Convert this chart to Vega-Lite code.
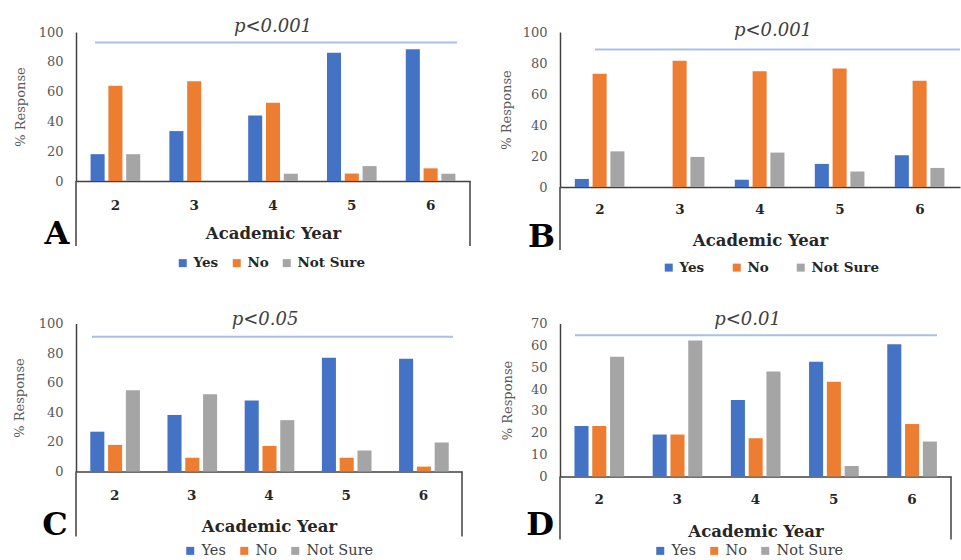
{
  "$schema": "https://vega.github.io/schema/vega-lite/v6.json",
  "background": "white",
  "padding": {"left": 13, "top": 18, "right": 0, "bottom": 0},
  "columns": 2,
  "spacing": {"row": 136.5, "column": 90},
  "bounds": "flush",
  "align": "each",
  "resolve": {"scale": {"color": "independent"}, "legend": {"color": "independent"}},
  "config": {
    "view": {"stroke": null},
    "axis": {"grid": false, "ticks": false, "tickSize": 0, "domainColor": "#404040", "domainWidth": 1.5, "labelOverlap": false},
    "axisY": {"labelFont": "DejaVu Serif", "labelFontSize": 13, "labelColor": "#595959", "titleFont": "DejaVu Serif", "titleFontSize": 13, "titleFontWeight": "normal", "titleColor": "#595959"},
    "axisX": {"labelFont": "DejaVu Serif", "labelFontSize": 13.5, "labelFontWeight": "bold", "labelColor": "#262626", "labelAngle": 0, "titleFont": "DejaVu Serif", "titleFontSize": 16.5, "titleFontWeight": "bold", "titleColor": "#262626"},
    "title": {"font": "DejaVu Serif", "fontSize": 18, "fontStyle": "italic", "fontWeight": "normal", "color": "#404040", "frame": "group", "anchor": "middle", "baseline": "alphabetic", "offset": 0},
    "legend": {"title": null, "orient": "none", "direction": "horizontal", "symbolType": "square", "symbolSize": 64, "symbolStrokeWidth": 0, "labelFont": "DejaVu Serif", "labelOffset": 4, "padding": 0}
  },
  "concat": [
    {
      "width": 394, "height": 149,
      "title": {"text": "p<0.001", "dy": 14},
      "layer": [
        {
          "data": {"values": [
            {"year": "2", "resp": "Yes", "pct": 18}, {"year": "2", "resp": "No", "pct": 64}, {"year": "2", "resp": "Not Sure", "pct": 18},
            {"year": "3", "resp": "Yes", "pct": 33.5}, {"year": "3", "resp": "No", "pct": 67}, {"year": "3", "resp": "Not Sure", "pct": 0},
            {"year": "4", "resp": "Yes", "pct": 44}, {"year": "4", "resp": "No", "pct": 52.5}, {"year": "4", "resp": "Not Sure", "pct": 4.9},
            {"year": "5", "resp": "Yes", "pct": 86}, {"year": "5", "resp": "No", "pct": 5}, {"year": "5", "resp": "Not Sure", "pct": 10},
            {"year": "6", "resp": "Yes", "pct": 88.5}, {"year": "6", "resp": "No", "pct": 8.5}, {"year": "6", "resp": "Not Sure", "pct": 4.9}
          ]},
          "mark": {"type": "bar"},
          "encoding": {
            "x": {"field": "year", "type": "nominal", "scale": {"paddingInner": 0.37, "paddingOuter": 0.185}, "axis": {"title": "Academic Year", "labelPadding": 17, "titlePadding": 13.5}},
            "xOffset": {"field": "resp", "type": "nominal", "sort": ["Yes", "No", "Not Sure"], "scale": {"paddingInner": 0.21}},
            "y": {"field": "pct", "type": "quantitative", "scale": {"domain": [0, 100], "nice": false}, "axis": {"title": "% Response", "values": [0, 20, 40, 60, 80, 100], "labelOverlap": false, "labelPadding": 13, "titlePadding": 11}},
            "color": {"field": "resp", "type": "nominal", "sort": ["Yes", "No", "Not Sure"], "scale": {"domain": ["Yes", "No", "Not Sure"], "range": ["#4472C4", "#ED7D31", "#A5A5A5"]},
              "legend": {"legendX": 100, "legendY": 224, "labelFontSize": 13.5, "labelFontWeight": "bold", "labelColor": "#262626", "columnPadding": 11}}
          }
        },
        {"data": {"values": [{}]}, "mark": {"type": "rule", "color": "#A9BFE6", "strokeWidth": 2}, "encoding": {"x": {"value": 19}, "x2": {"value": 381}, "y": {"datum": 93, "type": "quantitative", "axis": {"title": "% Response", "values": [0, 20, 40, 60, 80, 100], "labelOverlap": false, "labelPadding": 13, "titlePadding": 11}}}},
        {"data": {"values": [{}]}, "mark": {"type": "rule", "color": "#404040", "strokeWidth": 1.5}, "encoding": {"x": {"value": 0}, "y": {"value": 149}, "y2": {"value": 214}}},
        {"data": {"values": [{}]}, "mark": {"type": "rule", "color": "#404040", "strokeWidth": 1.5}, "encoding": {"x": {"value": 394}, "y": {"value": 149}, "y2": {"value": 214}}},
        {"data": {"values": [{"t": "A"}]}, "mark": {"type": "text", "font": "DejaVu Serif", "fontSize": 32, "fontWeight": "bold", "color": "#000000", "align": "center", "baseline": "alphabetic"}, "encoding": {"text": {"field": "t"}, "x": {"value": -19}, "y": {"value": 212}}}
      ]
    },
    {
      "width": 400, "height": 155,
      "title": {"text": "p<0.001", "dx": 13, "dy": 18},
      "layer": [
        {
          "data": {"values": [
            {"year": "2", "resp": "Yes", "pct": 5.2}, {"year": "2", "resp": "No", "pct": 73}, {"year": "2", "resp": "Not Sure", "pct": 23},
            {"year": "3", "resp": "Yes", "pct": 0}, {"year": "3", "resp": "No", "pct": 81.5}, {"year": "3", "resp": "Not Sure", "pct": 19.4},
            {"year": "4", "resp": "Yes", "pct": 4.7}, {"year": "4", "resp": "No", "pct": 74.7}, {"year": "4", "resp": "Not Sure", "pct": 22.2},
            {"year": "5", "resp": "Yes", "pct": 14.9}, {"year": "5", "resp": "No", "pct": 76.5}, {"year": "5", "resp": "Not Sure", "pct": 10},
            {"year": "6", "resp": "Yes", "pct": 20.5}, {"year": "6", "resp": "No", "pct": 68.5}, {"year": "6", "resp": "Not Sure", "pct": 12.3}
          ]},
          "mark": {"type": "bar"},
          "encoding": {
            "x": {"field": "year", "type": "nominal", "scale": {"paddingInner": 0.37, "paddingOuter": 0.185}, "axis": {"title": "Academic Year", "labelPadding": 15, "titlePadding": 16.5}},
            "xOffset": {"field": "resp", "type": "nominal", "sort": ["Yes", "No", "Not Sure"], "scale": {"paddingInner": 0.21}},
            "y": {"field": "pct", "type": "quantitative", "scale": {"domain": [0, 100], "nice": false}, "axis": {"title": "% Response", "values": [0, 20, 40, 60, 80, 100], "labelOverlap": false, "labelPadding": 13, "titlePadding": 9}},
            "color": {"field": "resp", "type": "nominal", "sort": ["Yes", "No", "Not Sure"], "scale": {"domain": ["Yes", "No", "Not Sure"], "range": ["#4472C4", "#ED7D31", "#A5A5A5"]},
              "legend": {"legendX": 102, "legendY": 228.5, "labelFontSize": 13.5, "labelFontWeight": "bold", "labelColor": "#262626", "columnPadding": 25}}
          }
        },
        {"data": {"values": [{}]}, "mark": {"type": "rule", "color": "#A9BFE6", "strokeWidth": 2}, "encoding": {"x": {"value": 35}, "x2": {"value": 400}, "y": {"datum": 88.7, "type": "quantitative", "axis": {"title": "% Response", "values": [0, 20, 40, 60, 80, 100], "labelOverlap": false, "labelPadding": 13, "titlePadding": 9}}}},
        {"data": {"values": [{}]}, "mark": {"type": "rule", "color": "#404040", "strokeWidth": 1.5}, "encoding": {"x": {"value": 0}, "y": {"value": 155}, "y2": {"value": 218}}},
        {"data": {"values": [{"t": "B"}]}, "mark": {"type": "text", "font": "DejaVu Serif", "fontSize": 32, "fontWeight": "bold", "color": "#000000", "align": "center", "baseline": "alphabetic"}, "encoding": {"text": {"field": "t"}, "x": {"value": -18.5}, "y": {"value": 215}}}
      ]
    },
    {
      "width": 386, "height": 148,
      "title": {"text": "p<0.05", "dx": -4, "dy": 15.5},
      "layer": [
        {
          "data": {"values": [
            {"year": "2", "resp": "Yes", "pct": 26.9}, {"year": "2", "resp": "No", "pct": 18}, {"year": "2", "resp": "Not Sure", "pct": 54.9},
            {"year": "3", "resp": "Yes", "pct": 38.2}, {"year": "3", "resp": "No", "pct": 9.3}, {"year": "3", "resp": "Not Sure", "pct": 52.2},
            {"year": "4", "resp": "Yes", "pct": 48}, {"year": "4", "resp": "No", "pct": 17.3}, {"year": "4", "resp": "Not Sure", "pct": 34.7},
            {"year": "5", "resp": "Yes", "pct": 76.9}, {"year": "5", "resp": "No", "pct": 9.3}, {"year": "5", "resp": "Not Sure", "pct": 14.2},
            {"year": "6", "resp": "Yes", "pct": 76.2}, {"year": "6", "resp": "No", "pct": 3.3}, {"year": "6", "resp": "Not Sure", "pct": 19.6}
          ]},
          "mark": {"type": "bar"},
          "encoding": {
            "x": {"field": "year", "type": "nominal", "scale": {"paddingInner": 0.37, "paddingOuter": 0.185}, "axis": {"title": "Academic Year", "labelPadding": 17, "titlePadding": 16.5}},
            "xOffset": {"field": "resp", "type": "nominal", "sort": ["Yes", "No", "Not Sure"], "scale": {"paddingInner": 0.21}},
            "y": {"field": "pct", "type": "quantitative", "scale": {"domain": [0, 100], "nice": false}, "axis": {"title": "% Response", "values": [0, 20, 40, 60, 80, 100], "labelOverlap": false, "labelPadding": 13, "titlePadding": 12}},
            "color": {"field": "resp", "type": "nominal", "sort": ["Yes", "No", "Not Sure"], "scale": {"domain": ["Yes", "No", "Not Sure"], "range": ["#4472C4", "#ED7D31", "#A5A5A5"]},
              "legend": {"legendX": 107, "legendY": 220, "labelFontSize": 14.5, "labelFontWeight": "normal", "labelColor": "#404040", "columnPadding": 11}}
          }
        },
        {"data": {"values": [{}]}, "mark": {"type": "rule", "color": "#A9BFE6", "strokeWidth": 2}, "encoding": {"x": {"value": 16}, "x2": {"value": 377}, "y": {"datum": 91, "type": "quantitative", "axis": {"title": "% Response", "values": [0, 20, 40, 60, 80, 100], "labelOverlap": false, "labelPadding": 13, "titlePadding": 12}}}},
        {"data": {"values": [{}]}, "mark": {"type": "rule", "color": "#404040", "strokeWidth": 1.5}, "encoding": {"x": {"value": 0}, "y": {"value": 148}, "y2": {"value": 213}}},
        {"data": {"values": [{}]}, "mark": {"type": "rule", "color": "#404040", "strokeWidth": 1.5}, "encoding": {"x": {"value": 386}, "y": {"value": 148}, "y2": {"value": 213}}},
        {"data": {"values": [{"t": "C"}]}, "mark": {"type": "text", "font": "DejaVu Serif", "fontSize": 32, "fontWeight": "bold", "color": "#000000", "align": "center", "baseline": "alphabetic"}, "encoding": {"text": {"field": "t"}, "x": {"value": -21}, "y": {"value": 211}}}
      ]
    },
    {
      "width": 391, "height": 153,
      "title": {"text": "p<0.01", "dx": -8, "dy": 15.5},
      "layer": [
        {
          "data": {"values": [
            {"year": "2", "resp": "Yes", "pct": 23.1}, {"year": "2", "resp": "No", "pct": 23.1}, {"year": "2", "resp": "Not Sure", "pct": 54.8},
            {"year": "3", "resp": "Yes", "pct": 19.2}, {"year": "3", "resp": "No", "pct": 19.2}, {"year": "3", "resp": "Not Sure", "pct": 62.2},
            {"year": "4", "resp": "Yes", "pct": 35}, {"year": "4", "resp": "No", "pct": 17.5}, {"year": "4", "resp": "Not Sure", "pct": 48},
            {"year": "5", "resp": "Yes", "pct": 52.5}, {"year": "5", "resp": "No", "pct": 43.3}, {"year": "5", "resp": "Not Sure", "pct": 4.8},
            {"year": "6", "resp": "Yes", "pct": 60.5}, {"year": "6", "resp": "No", "pct": 24}, {"year": "6", "resp": "Not Sure", "pct": 16}
          ]},
          "mark": {"type": "bar"},
          "encoding": {
            "x": {"field": "year", "type": "nominal", "scale": {"paddingInner": 0.37, "paddingOuter": 0.185}, "axis": {"title": "Academic Year", "labelPadding": 16, "titlePadding": 17.5}},
            "xOffset": {"field": "resp", "type": "nominal", "sort": ["Yes", "No", "Not Sure"], "scale": {"paddingInner": 0.21}},
            "y": {"field": "pct", "type": "quantitative", "scale": {"domain": [0, 70], "nice": false}, "axis": {"title": "% Response", "values": [0, 10, 20, 30, 40, 50, 60, 70], "labelOverlap": false, "labelPadding": 13, "titlePadding": 16}},
            "color": {"field": "resp", "type": "nominal", "sort": ["Yes", "No", "Not Sure"], "scale": {"domain": ["Yes", "No", "Not Sure"], "range": ["#4472C4", "#ED7D31", "#A5A5A5"]},
              "legend": {"legendX": 93, "legendY": 220, "labelFontSize": 14.5, "labelFontWeight": "normal", "labelColor": "#404040", "columnPadding": 11}}
          }
        },
        {"data": {"values": [{}]}, "mark": {"type": "rule", "color": "#A9BFE6", "strokeWidth": 2}, "encoding": {"x": {"value": 15}, "x2": {"value": 377}, "y": {"datum": 64.6, "type": "quantitative", "axis": {"title": "% Response", "values": [0, 10, 20, 30, 40, 50, 60, 70], "labelOverlap": false, "labelPadding": 13, "titlePadding": 16}}}},
        {"data": {"values": [{}]}, "mark": {"type": "rule", "color": "#404040", "strokeWidth": 1.5}, "encoding": {"x": {"value": 0}, "y": {"value": 153}, "y2": {"value": 216}}},
        {"data": {"values": [{}]}, "mark": {"type": "rule", "color": "#404040", "strokeWidth": 1.5}, "encoding": {"x": {"value": 391}, "y": {"value": 153}, "y2": {"value": 216}}},
        {"data": {"values": [{"t": "D"}]}, "mark": {"type": "text", "font": "DejaVu Serif", "fontSize": 32, "fontWeight": "bold", "color": "#000000", "align": "center", "baseline": "alphabetic"}, "encoding": {"text": {"field": "t"}, "x": {"value": -20}, "y": {"value": 211}}}
      ]
    }
  ]
}
